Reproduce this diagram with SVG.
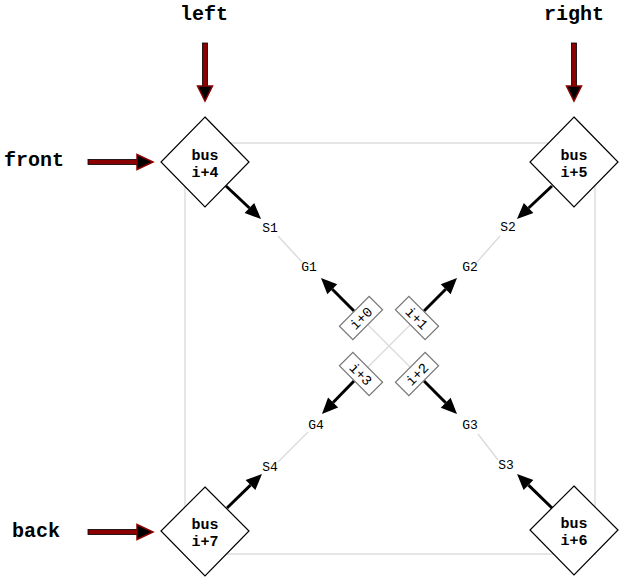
<svg xmlns="http://www.w3.org/2000/svg" width="624" height="581" viewBox="0 0 624 581">
<style>
.lbl{font-family:"Liberation Mono",monospace;font-weight:bold;font-size:20px;fill:#000;text-anchor:middle}
.bus{font-family:"Liberation Mono",monospace;font-weight:bold;font-size:15px;fill:#000;text-anchor:middle}
.sg{font-family:"Liberation Mono",monospace;font-size:13px;fill:#000;text-anchor:middle}
.ix{font-family:"Liberation Mono",monospace;font-size:14px;fill:#000;text-anchor:middle}
.dia{fill:#fff;stroke:#000;stroke-width:1.2}
.box{fill:#fff;stroke:#777;stroke-width:1.2}
.gray{stroke:#dcdcdc;stroke-width:1.5;fill:none}
.blk{stroke:#000;stroke-width:3;fill:none;marker-end:url(#ah)}
.shaft{fill:#8b0000;stroke:#000;stroke-width:0.8}
.rhead{fill:#000;stroke:#8b0000;stroke-width:1.5}
</style>
<defs>
<marker id="ah" markerUnits="userSpaceOnUse" markerWidth="20" markerHeight="20" refX="0" refY="7" orient="auto" overflow="visible">
<path d="M0,0 L16,7 L0,14 z" fill="#000"/>
</marker>
</defs>
<rect width="624" height="581" fill="#fff"/>
<rect x="185" y="143" width="410" height="411" fill="none" stroke="#e6e6e6" stroke-width="2"/>

<g id="labels">
<text class="lbl" x="204" y="20">left</text>
<text class="lbl" x="574" y="20">right</text>
<text class="lbl" x="34" y="166">front</text>
<text class="lbl" x="36" y="537">back</text>
</g>

<g id="connectors">
<rect class="shaft" x="202.5" y="43" width="5" height="44"/>
<polygon class="rhead" points="197.5,86 212.5,86 205,101"/>
<rect class="shaft" x="571.5" y="43" width="5" height="44"/>
<polygon class="rhead" points="566.5,86 581.5,86 574,101"/>
<rect class="shaft" x="88" y="159.5" width="50" height="5"/>
<polygon class="rhead" points="137,154.5 137,169.5 153,162"/>
<rect class="shaft" x="88" y="529.5" width="50" height="5"/>
<polygon class="rhead" points="137,524.5 137,539.5 153,532"/>

<line class="gray" x1="278" y1="236" x2="302" y2="262"/>
<line class="gray" x1="500" y1="236" x2="477" y2="262"/>
<line class="gray" x1="498" y1="460" x2="478" y2="434"/>
<line class="gray" x1="278" y1="462" x2="308" y2="432"/>
<line class="gray" x1="368" y1="325" x2="410" y2="367"/>
<line class="gray" x1="410" y1="325" x2="368" y2="367"/>

<line class="blk" x1="226" y1="186" x2="249.4" y2="208"/>
<line class="blk" x1="552" y1="186" x2="528.6" y2="208"/>
<line class="blk" x1="552" y1="508" x2="528.5" y2="485.1"/>
<line class="blk" x1="227" y1="508" x2="250.5" y2="485.1"/>
<line class="blk" x1="354" y1="311" x2="332.3" y2="289.3"/>
<line class="blk" x1="424" y1="311" x2="445.7" y2="289.3"/>
<line class="blk" x1="354" y1="381" x2="333.1" y2="402.5"/>
<line class="blk" x1="424" y1="381" x2="445.7" y2="402.7"/>
</g>

<g id="bus4"><polygon class="dia" points="205,117 249,162 205,207 161,162"/><text class="bus" x="205" y="160">bus</text><text class="bus" x="205" y="177">i+4</text></g>
<g id="bus5"><polygon class="dia" points="574,117 618,162 574,207 530,162"/><text class="bus" x="574" y="160">bus</text><text class="bus" x="574" y="177">i+5</text></g>
<g id="bus6"><polygon class="dia" points="574,486 618,530 574,575 530,530"/><text class="bus" x="574" y="528">bus</text><text class="bus" x="574" y="545">i+6</text></g>
<g id="bus7"><polygon class="dia" points="205,487 249,531 205,576 161,531"/><text class="bus" x="205" y="529">bus</text><text class="bus" x="205" y="546">i+7</text></g>

<g id="S1"><text class="sg" x="270" y="232">S1</text></g>
<g id="S2"><text class="sg" x="508" y="231">S2</text></g>
<g id="S3"><text class="sg" x="506" y="469">S3</text></g>
<g id="S4"><text class="sg" x="270" y="471">S4</text></g>
<g id="G1"><text class="sg" x="309" y="271">G1</text></g>
<g id="G2"><text class="sg" x="470" y="271">G2</text></g>
<g id="G3"><text class="sg" x="470" y="429">G3</text></g>
<g id="G4"><text class="sg" x="316" y="429">G4</text></g>

<g id="i0" transform="translate(361,318) rotate(-45)"><rect class="box" x="-21" y="-9.5" width="42" height="19"/><text class="ix" x="0" y="5">i+0</text></g>
<g id="i1" transform="translate(417,318) rotate(45)"><rect class="box" x="-21" y="-9.5" width="42" height="19"/><text class="ix" x="0" y="5">i+1</text></g>
<g id="i2" transform="translate(417,374) rotate(-45)"><rect class="box" x="-21" y="-9.5" width="42" height="19"/><text class="ix" x="0" y="5">i+2</text></g>
<g id="i3" transform="translate(361,374) rotate(45)"><rect class="box" x="-21" y="-9.5" width="42" height="19"/><text class="ix" x="0" y="5">i+3</text></g>
</svg>
